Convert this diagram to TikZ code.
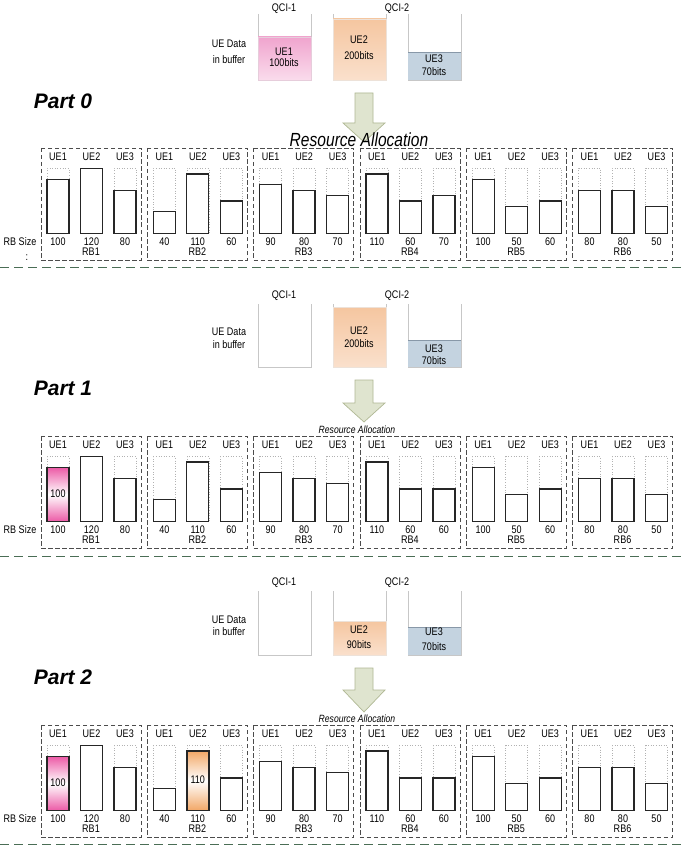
\documentclass[tikz,border=0pt]{standalone}
\usepackage{fontspec}
\setmainfont{Liberation Sans}[FakeStretch=0.82]
\newfontfamily\partfont{Liberation Sans}
\definecolor{pinkA}{HTML}{F0A4CE}
\definecolor{pinkB}{HTML}{FADCEC}
\definecolor{peachA}{HTML}{F5C6A0}
\definecolor{peachB}{HTML}{FAE0CC}
\definecolor{blueA}{HTML}{C4D3E0}
\definecolor{blueE}{HTML}{8898A8}
\definecolor{hipink}{HTML}{EC5AA6}
\definecolor{hiorange}{HTML}{F2A766}
\definecolor{arrfill}{HTML}{DFE4CF}
\definecolor{arrdraw}{HTML}{B0B894}
\definecolor{sepcol}{HTML}{4A6D55}
\tikzset{
  lbl/.style={font=\fontsize{11}{12}\selectfont, inner sep=0pt},
  grp/.style={draw=black!70, dash pattern=on 4.5pt off 2.5pt, line width=0.8pt},
  barbox/.style={draw=black!85, line width=1.3pt, fill=white},
  capbox/.style={draw=black!30, dotted, line width=0.6pt},
  sepline/.style={draw=sepcol, dash pattern=on 9pt off 5pt, line width=0.9pt},
  bucket/.style={draw=black!22, line width=0.7pt},
  arr/.style={fill=arrfill, draw=arrdraw, line width=0.7pt},
  partlbl/.style={font=\partfont\bfseries\itshape\fontsize{21}{24}\selectfont, inner sep=0pt},
  ralbl/.style={font=\itshape\fontsize{10.5}{12}\selectfont, inner sep=0pt, anchor=base},
  hibar/.style={draw=black!85, line width=1.6pt},
}
\newcommand\rbpart[3]{%
  \foreach [count=\g] \a/\b/\c in {#3} {
    \pgfmathsetmacro\gx{41+106.3*(\g-1)}
    \draw[grp] (\gx,#2) rectangle ++(100,112);
    \foreach [count=\u] \v in {\a,\b,\c} {
      \pgfmathsetmacro\bx{\gx+17+33.5*(\u-1)}
      \draw[capbox] (\bx-11,#2+85.5) rectangle (\bx+11,#2+20.5);
      \draw[barbox] (\bx-11,#2+85.5) rectangle (\bx+11,#2+85.5-\v*65/120);
      \node[lbl] (ue#1-\g-\u) at (\bx,#2+9) {UE\u};
      \node[lbl] (val#1-\g-\u) at (\bx,#2+94) {\v};
    }
    \node[lbl] (rb#1-\g) at (\gx+50,#2+104) {RB\g};
  }
  \node[lbl] (rbsize#1) at (20,#2+94) {RB Size};
}
\newcommand\arrowshape[4]{% x, top, headstart, tip
  \filldraw[arr] (#1-9,#2) -- (#1+9,#2) -- (#1+9,#3) -- (#1+21,#3) -- (#1,#4) -- (#1-21,#3) -- (#1-9,#3) -- cycle;
}
\newcommand\bucketset[2]{% top, bottom
  \draw[bucket] (258,#1) -- (258,#2) -- (311,#2) -- (311,#1);
  \draw[bucket] (333,#1) -- (333,#2) -- (386,#2) -- (386,#1);
  \draw[bucket] (408,#1) -- (408,#2) -- (461,#2) -- (461,#1);
}
\begin{document}
\begin{tikzpicture}[x=1pt,y=-1pt]
\useasboundingbox (0,0) rectangle (685,850);
\fill[white] (0,0) rectangle (685,850);

% ================= PART 0 =================
\node[lbl] (qa0) at (284,9) {QCI-1};
\node[lbl] (qb0) at (397,9) {QCI-2};
\node[lbl, align=center, font=\fontsize{11}{16}\selectfont] (ued0) at (229,52) {UE Data\\in buffer};
\bucketset{14}{80}
\shade[top color=pinkA, bottom color=pinkB, draw=pinkA!80!black!40] (258,37) rectangle (311,80);
\shade[top color=peachA, bottom color=peachB, draw=peachA!80!black!30] (333,19) rectangle (386,80);
\fill[blueA] (408,52) rectangle (461,80);
\draw[blueE, line width=0.8pt] (408,52) -- (461,52);
\node[lbl, align=center, font=\fontsize{11}{11.5}\selectfont] (b0a) at (284,57.5) {UE1\\100bits};
\node[lbl, align=center, font=\fontsize{11}{16}\selectfont] (b0b) at (359,48) {UE2\\200bits};
\node[lbl, align=center, font=\fontsize{11}{13}\selectfont] (b0c) at (434,65.5) {UE3\\70bits};
\node[partlbl] (part0) at (63,101) {Part 0};
\arrowshape{364}{93}{123}{142}
\rbpart{0}{148}{100/120/80, 40/110/60, 90/80/70, 110/60/70, 100/50/60, 80/80/50}
\node[ralbl, font=\itshape\fontsize{19}{21}\selectfont] (ra0) at (359,147) {Resource Allocation};
\node[lbl] (colon0) at (27,258) {:};
\draw[sepline] (0,267) -- (685,267);

% ================= PART 1 =================
\node[lbl] (qa1) at (284,296) {QCI-1};
\node[lbl] (qb1) at (397,296) {QCI-2};
\node[lbl, align=center, font=\fontsize{11}{13}\selectfont] (ued1) at (229,338.5) {UE Data\\in buffer};
\bucketset{304}{367}
\shade[top color=peachA, bottom color=peachB, draw=peachA!80!black!30] (333,307) rectangle (386,367);
\fill[blueA] (408,340) rectangle (461,367);
\draw[blueE, line width=0.8pt] (408,340) -- (461,340);
\node[lbl, align=center, font=\fontsize{11}{13}\selectfont] (b1b) at (359,337.5) {UE2\\200bits};
\node[lbl, align=center, font=\fontsize{11}{12}\selectfont] (b1c) at (434,355) {UE3\\70bits};
\node[partlbl] (part1) at (63,388) {Part 1};
\arrowshape{364}{380}{403}{422}
\rbpart{1}{436}{100/120/80, 40/110/60, 90/80/70, 110/60/60, 100/50/60, 80/80/50}
\shade[top color=hipink, bottom color=hipink, middle color=white] (47,521.5) rectangle (69,467.3);
\draw[hibar] (47,521.5) rectangle (69,467.3);
\node[lbl] (hi1a) at (58,494) {100};
\node[ralbl] (ra1) at (357,433) {Resource Allocation};
\draw[sepline] (0,556) -- (685,556);

% ================= PART 2 =================
\node[lbl] (qa2) at (284,583) {QCI-1};
\node[lbl] (qb2) at (397,583) {QCI-2};
\node[lbl, align=center, font=\fontsize{11}{12}\selectfont] (ued2) at (229,626) {UE Data\\in buffer};
\bucketset{591}{655}
\shade[top color=peachA, bottom color=peachB, draw=peachA!80!black!30] (333,621) rectangle (386,655);
\fill[blueA] (408,627) rectangle (461,655);
\draw[blueE, line width=0.8pt] (408,627) -- (461,627);
\node[lbl, align=center, font=\fontsize{11}{15}\selectfont] (b2b) at (359,637.5) {UE2\\90bits};
\node[lbl, align=center, font=\fontsize{11}{15}\selectfont] (b2c) at (434,639.5) {UE3\\70bits};
\node[partlbl] (part2) at (63,677) {Part 2};
\arrowshape{364}{668}{690}{712}
\rbpart{2}{725}{100/120/80, 40/110/60, 90/80/70, 110/60/60, 100/50/60, 80/80/50}
\shade[top color=hipink, bottom color=hipink, middle color=white] (47,810.5) rectangle (69,756.3);
\draw[hibar] (47,810.5) rectangle (69,756.3);
\node[lbl] (hi2a) at (58,783) {100};
\shade[top color=hiorange, bottom color=hiorange, middle color=white] (186.8,810.5) rectangle (208.8,750.9);
\draw[hibar] (186.8,810.5) rectangle (208.8,750.9);
\node[lbl] (hi2b) at (197.8,780) {110};
\node[ralbl] (ra2) at (357,722) {Resource Allocation};
\draw[sepline] (0,844) -- (685,844);
\end{tikzpicture}
\end{document}
